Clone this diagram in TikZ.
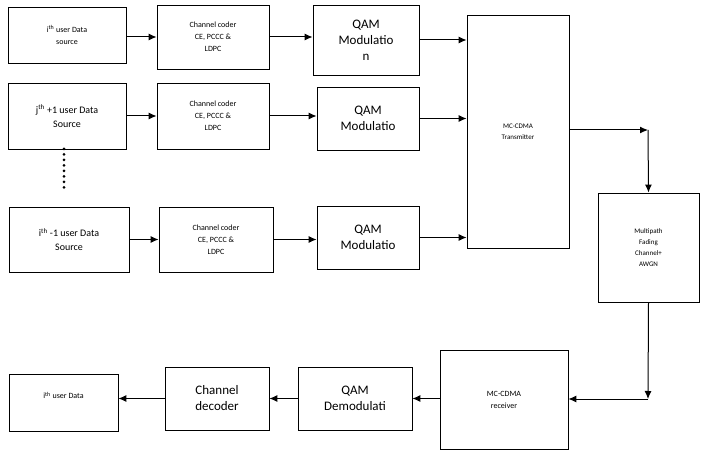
\documentclass[tikz,border=0pt]{standalone}
\usepackage{fontspec}
\setmainfont{Carlito}
\usetikzlibrary{arrows.meta}
\tikzset{
  blk/.style={draw,line width=0.9pt,inner sep=0pt,align=center,font=\fontsize{8}{12}\selectfont},
  big/.style={font=\fontsize{13}{16}\selectfont},
  tiny/.style={font=\fontsize{7}{11}\selectfont},
  flow/.style={line width=1pt,-{Latex[length=8pt,width=7pt]}}
}
\begin{document}
\begin{tikzpicture}[x=1pt,y=-1pt]
                \useasboundingbox (0,0) rectangle (707,454);
                % transmit chains
                \node[blk,minimum width=118pt,minimum height=56pt] (src1) at (67,35) {i\textsuperscript{th} user Data\\source};
                \node[blk,minimum width=112pt,minimum height=64pt] (cod1) at (213,37) {Channel coder\\CE, PCCC \&\\LDPC};
                \node[blk,big,minimum width=106pt,minimum height=70pt] (qam1) at (366,40) {QAM\\Modulatio\\n};
                \node[blk,minimum width=118pt,minimum height=66pt,font=\fontsize{10}{14}\selectfont] (src2) at (67,116) {j\textsuperscript{th} +1 user Data\\Source};
                \node[blk,minimum width=112pt,minimum height=66pt] (cod2) at (213,116) {Channel coder\\CE, PCCC \&\\LDPC};
                \node[blk,big,minimum width=102pt,minimum height=63pt] (qam2) at (368,118.5) {QAM\\Modulatio};
                \node[blk,minimum width=120pt,minimum height=65pt,font=\fontsize{10}{14}\selectfont] (src3) at (69,239.5) {i\textsuperscript{th} -1 user Data\\Source};
                \node[blk,minimum width=114pt,minimum height=65pt] (cod3) at (216,239.5) {Channel coder\\CE, PCCC \&\\LDPC};
                \node[blk,big,minimum width=102pt,minimum height=63pt] (qam3) at (368,237.5) {QAM\\Modulatio};
                \node[blk,tiny,minimum width=102pt,minimum height=233pt] (tx) at (518,131.5) {MC-CDMA\\Transmitter};
                % channel and receiver
                \node[blk,tiny,minimum width=101pt,minimum height=109pt] (chan) at (648.5,247.5) {Multipath\\Fading\\Channel+\\AWGN};
                \node[blk,minimum width=128pt,minimum height=99pt] (rx) at (504,399.5) {MC-CDMA\\receiver};
                \node[blk,big,minimum width=114pt,minimum height=63pt] (demod) at (355,398.5) {QAM\\Demodulati};
                \node[blk,big,minimum width=104pt,minimum height=63pt] (dec) at (217,398.5) {Channel\\decoder};
                \node[blk,minimum width=109pt,minimum height=57pt,text depth=14pt] (sink) at (63.5,402.5) {i\textsuperscript{th} user Data};
                \coordinate (bendA) at (648,130);
                \coordinate (bendB) at (648,399);

                \foreach \y in {149,154.5,...,192} \fill (64,\y) circle (1.5pt);

                \foreach \n in {1,2,3} {
                  \draw[flow] (src\n.east |- cod\n) -- (cod\n.west);
                  \draw[flow] (cod\n.east) -- (cod\n.east -| qam\n.west);
                  \draw[flow] (qam\n.east) -- (qam\n.east -| tx.west);
                }
                \draw[flow] (tx.east |- bendA) -- (bendA);
                \draw[flow] (bendA) -- (chan.north);
                \draw[flow] (chan.south) -- (bendB);
                \draw[flow] (bendB) -- (rx.east |- bendB);
                \draw[flow] (rx.west |- demod) -- (demod.east);
                \draw[flow] (demod.west) -- (dec.east);
                \draw[flow] (dec.west) -- (dec.west -| sink.east);
            \end{tikzpicture}
\end{document}
